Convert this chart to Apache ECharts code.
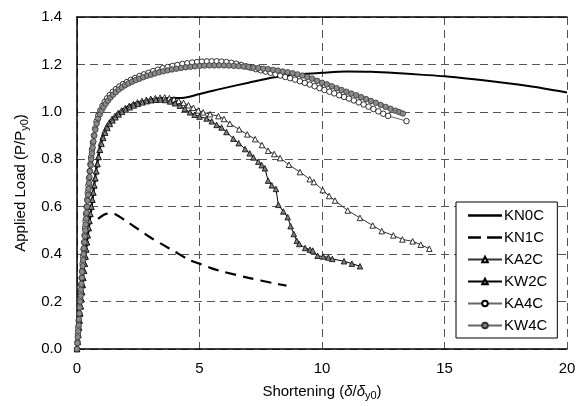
<!DOCTYPE html>
<html>
<head>
<meta charset="utf-8">
<script src="https://cdn.jsdelivr.net/npm/echarts@6/dist/echarts.min.js"></script>
<style>html,body{margin:0;padding:0;background:#fff}#c{width:580px;height:406px}</style>
</head>
<body>
<div id="c"></div>
<script>
var xTicks = [0, 5, 10, 15, 20];
var yTicks = [0.0, 0.2, 0.4, 0.6, 0.8, 1.0, 1.2, 1.4];
var seriesNames = ['KN0C', 'KN1C', 'KA2C', 'KW2C', 'KA4C', 'KW4C'];

var KN0C = [[0,0],[0.15,0.2],[0.35,0.4],[0.6,0.6],[0.8,0.77],[1.07,0.91],[1.5,0.98],[2.3,1.035],[3.0,1.05],[3.6,1.058],[4.2,1.058],[5,1.075],[6,1.1],[7,1.123],[8,1.145],[9,1.158],[10,1.165],[11,1.17],[12,1.169],[13,1.164],[14,1.157],[15,1.15],[16,1.14],[17,1.128],[18,1.115],[19,1.1],[20,1.082]];

var KN1C = [[0.86,0.549],[1.1,0.566],[1.35,0.573],[1.6,0.566],[2,0.54],[2.5,0.505],[3,0.47],[3.5,0.44],[4,0.41],[4.6,0.375],[5,0.36],[5.5,0.34],[6,0.325],[7,0.3],[8,0.278],[8.55,0.267]];

var KA2C = [[0,0],[0.03,0.03],[0.05,0.06],[0.08,0.09],[0.1,0.12],[0.13,0.15],[0.15,0.18],[0.18,0.21],[0.2,0.24],[0.23,0.27],[0.25,0.3],[0.28,0.33],[0.31,0.36],[0.34,0.39],[0.37,0.42],[0.4,0.45],[0.43,0.48],[0.47,0.51],[0.5,0.54],[0.54,0.57],[0.58,0.6],[0.62,0.63],[0.66,0.66],[0.7,0.69],[0.74,0.72],[0.78,0.75],[0.82,0.78],[0.87,0.81],[0.92,0.84],[0.98,0.87],[1.05,0.895],[1.13,0.918],[1.22,0.938],[1.32,0.955],[1.43,0.97],[1.55,0.983],[1.68,0.995],[1.82,1.006],[1.97,1.016],[2.13,1.025],[2.3,1.033],[2.47,1.04],[2.65,1.046],[2.83,1.051],[3.01,1.055],[3.2,1.058],[3.39,1.06],[3.58,1.061],[3.77,1.058],[3.96,1.053],[4.15,1.046],[4.35,1.038],[4.55,1.028],[4.75,1.017],[4.95,1.006],[5.15,0.998],[5.43,0.99],[5.77,0.982],[6.0,0.97],[6.24,0.95],[6.62,0.926],[6.95,0.905],[7.27,0.885],[7.55,0.86],[7.8,0.836],[8.05,0.822],[8.29,0.805],[8.65,0.777],[9.1,0.746],[9.5,0.716],[9.67,0.704],[10.03,0.67],[10.29,0.645],[10.53,0.626],[11.05,0.584],[11.55,0.553],[12.07,0.521],[12.44,0.497],[12.91,0.479],[13.28,0.462],[13.7,0.454],[14.03,0.44],[14.38,0.423]];

var KW2C = [[0,0],[0.03,0.03],[0.06,0.06],[0.08,0.09],[0.11,0.12],[0.13,0.15],[0.16,0.18],[0.18,0.21],[0.21,0.24],[0.23,0.27],[0.26,0.3],[0.29,0.33],[0.32,0.36],[0.35,0.39],[0.38,0.42],[0.41,0.45],[0.44,0.48],[0.48,0.51],[0.51,0.54],[0.55,0.57],[0.59,0.6],[0.63,0.63],[0.67,0.66],[0.71,0.69],[0.75,0.72],[0.79,0.75],[0.84,0.78],[0.89,0.81],[0.94,0.84],[1.0,0.865],[1.07,0.89],[1.15,0.912],[1.24,0.932],[1.34,0.949],[1.45,0.964],[1.57,0.977],[1.7,0.989],[1.84,1.0],[1.99,1.01],[2.15,1.019],[2.32,1.027],[2.49,1.034],[2.67,1.04],[2.85,1.045],[3.03,1.049],[3.22,1.051],[3.41,1.052],[3.6,1.05],[3.8,1.044],[4.0,1.036],[4.2,1.026],[4.4,1.013],[4.61,0.998],[4.8,0.988],[5.0,0.98],[5.29,0.972],[5.5,0.96],[5.7,0.945],[5.9,0.934],[6.1,0.915],[6.38,0.887],[6.6,0.868],[6.86,0.843],[7.05,0.825],[7.2,0.808],[7.4,0.79],[7.54,0.775],[7.67,0.762],[7.8,0.71],[7.95,0.69],[8.12,0.675],[8.22,0.608],[8.42,0.58],[8.6,0.556],[8.72,0.518],[8.85,0.485],[8.97,0.456],[9.07,0.443],[9.31,0.426],[9.51,0.419],[9.62,0.415],[9.82,0.393],[10.05,0.39],[10.26,0.386],[10.42,0.38],[10.9,0.37],[11.22,0.36],[11.55,0.349]];

var KA4C = [[0,0],[0.02,0.03],[0.04,0.06],[0.05,0.09],[0.07,0.12],[0.09,0.15],[0.11,0.18],[0.13,0.21],[0.15,0.24],[0.17,0.27],[0.19,0.3],[0.21,0.33],[0.23,0.36],[0.25,0.39],[0.27,0.42],[0.29,0.45],[0.31,0.48],[0.33,0.51],[0.35,0.54],[0.37,0.57],[0.39,0.6],[0.42,0.63],[0.44,0.66],[0.47,0.69],[0.49,0.72],[0.52,0.75],[0.55,0.78],[0.58,0.81],[0.61,0.84],[0.65,0.87],[0.69,0.9],[0.74,0.93],[0.8,0.96],[0.87,0.985],[0.95,1.006],[1.04,1.025],[1.13,1.042],[1.23,1.057],[1.34,1.071],[1.46,1.084],[1.59,1.096],[1.73,1.107],[1.88,1.117],[2.04,1.126],[2.2,1.135],[2.37,1.143],[2.55,1.151],[2.73,1.158],[2.92,1.165],[3.11,1.172],[3.3,1.178],[3.5,1.184],[3.7,1.189],[3.9,1.194],[4.1,1.198],[4.3,1.202],[4.5,1.205],[4.7,1.208],[4.9,1.21],[5.1,1.212],[5.3,1.213],[5.5,1.213],[5.7,1.213],[5.9,1.212],[6.1,1.21],[6.3,1.207],[6.5,1.203],[6.7,1.198],[6.9,1.192],[7.1,1.186],[7.3,1.18],[7.5,1.175],[7.7,1.17],[7.9,1.165],[8.1,1.159],[8.3,1.153],[8.5,1.147],[8.7,1.142],[8.9,1.136],[9.1,1.129],[9.3,1.122],[9.5,1.115],[9.7,1.108],[9.9,1.1],[10.1,1.092],[10.3,1.085],[10.5,1.078],[10.7,1.07],[10.9,1.063],[11.1,1.056],[11.3,1.048],[11.5,1.04],[11.7,1.031],[11.9,1.022],[12.1,1.012],[12.3,1.002],[12.5,0.992],[12.7,0.983],[13.45,0.961]];

var KW4C = [[0,0],[0.02,0.025],[0.03,0.05],[0.05,0.075],[0.07,0.1],[0.08,0.125],[0.1,0.15],[0.11,0.175],[0.13,0.2],[0.15,0.225],[0.16,0.25],[0.18,0.275],[0.2,0.3],[0.21,0.325],[0.23,0.35],[0.25,0.375],[0.27,0.4],[0.28,0.425],[0.3,0.45],[0.32,0.475],[0.34,0.5],[0.35,0.525],[0.37,0.55],[0.39,0.575],[0.41,0.6],[0.43,0.625],[0.45,0.65],[0.47,0.675],[0.49,0.7],[0.51,0.725],[0.53,0.75],[0.56,0.775],[0.58,0.8],[0.61,0.825],[0.64,0.85],[0.67,0.875],[0.71,0.9],[0.75,0.925],[0.8,0.95],[0.86,0.972],[0.93,0.99],[1.0,1.005],[1.08,1.02],[1.17,1.034],[1.26,1.047],[1.36,1.06],[1.47,1.072],[1.58,1.083],[1.7,1.094],[1.83,1.103],[1.96,1.112],[2.1,1.12],[2.25,1.127],[2.4,1.134],[2.55,1.14],[2.7,1.146],[2.86,1.152],[3.02,1.157],[3.18,1.162],[3.35,1.167],[3.52,1.171],[3.7,1.175],[3.88,1.179],[4.06,1.182],[4.25,1.185],[4.44,1.188],[4.63,1.19],[4.82,1.192],[5.01,1.194],[5.2,1.195],[5.4,1.196],[5.6,1.196],[5.8,1.196],[6.0,1.196],[6.2,1.195],[6.4,1.194],[6.6,1.193],[6.8,1.191],[7.0,1.189],[7.2,1.187],[7.4,1.185],[7.6,1.182],[7.8,1.18],[8.0,1.177],[8.2,1.174],[8.4,1.17],[8.6,1.167],[8.8,1.163],[9.0,1.158],[9.2,1.153],[9.4,1.147],[9.6,1.14],[9.8,1.131],[10.0,1.123],[10.2,1.116],[10.4,1.108],[10.6,1.1],[10.8,1.092],[11.0,1.085],[11.2,1.077],[11.4,1.07],[11.6,1.062],[11.8,1.054],[12.0,1.046],[12.2,1.038],[12.4,1.029],[12.6,1.021],[12.8,1.013],[13.0,1.005],[13.15,0.999],[13.3,0.993]];

var FONT = 'Liberation Sans, Arial, sans-serif';
var chart = echarts.init(document.getElementById('c'), null, {renderer: 'canvas'});

function markerSeries(name, data, symbol, fill, edge, lineColor, size) {
  return {
    name: name, type: 'line', data: data, symbol: symbol, symbolSize: size,
    showAllSymbol: true, animation: false,
    lineStyle: {color: lineColor, width: 1},
    itemStyle: {color: fill, borderColor: edge, borderWidth: 0.8}
  };
}

var legendData = seriesNames.map(function (n) {
  if (n === 'KN0C') return {name: n, icon: 'path://M0,0H34V2.6H0Z'};
  if (n === 'KN1C') return {name: n, icon: 'path://M0,0H13V2.6H0Z M19,0H34V2.6H19Z'};
  return {name: n};
});

chart.setOption({
  animation: false,
  backgroundColor: '#fff',
  grid: {left: 77, right: 13, top: 17, bottom: 55, containLabel: false},
  xAxis: [{
    type: 'value', min: xTicks[0], max: xTicks[xTicks.length - 1], interval: 5,
    axisLine: {show: true, onZero: false, lineStyle: {color: '#000', width: 1.5}},
    axisTick: {show: false},
    axisLabel: {color: '#000', fontSize: 15, fontFamily: FONT, margin: 12},
    splitLine: {show: true, lineStyle: {color: '#555', width: 1, type: [8, 5]}},
    name: 'Shortening ({it|δ}/{it|δ}{sub|y0})',
    nameLocation: 'middle', nameGap: 34,
    nameTextStyle: {color: '#000', fontSize: 15, fontFamily: FONT,
      rich: {it: {fontStyle: 'italic', fontSize: 15, fontFamily: FONT, color: '#000'},
             sub: {fontSize: 11, fontFamily: FONT, color: '#000', padding: [7, 0, 0, 0]}}}
  }, {
    type: 'value', position: 'top', min: 0, max: 20, interval: 5,
    axisLine: {show: true, onZero: false, lineStyle: {color: '#000', width: 1.5}},
    axisTick: {show: false}, axisLabel: {show: false}, splitLine: {show: false}
  }],
  yAxis: {
    type: 'value', min: yTicks[0], max: yTicks[yTicks.length - 1], interval: 0.2,
    axisLine: {show: true, onZero: false, lineStyle: {color: '#000', width: 1.5}},
    axisTick: {show: false},
    axisLabel: {color: '#000', fontSize: 15, fontFamily: FONT, margin: 15,
      formatter: function (v) { return v.toFixed(1); }},
    splitLine: {show: true, lineStyle: {color: '#555', width: 1, type: [8, 5]}},
    name: 'Applied Load (P/P{sub|y0})',
    nameLocation: 'middle', nameGap: 44, nameRotate: 90,
    nameTextStyle: {color: '#000', fontSize: 15, fontFamily: FONT,
      rich: {sub: {fontSize: 11, fontFamily: FONT, color: '#000', padding: [7, 0, 0, 0]}}}
  },
  legend: {
    orient: 'vertical', left: 456, top: 202,
    data: legendData, symbolKeepAspect: true,
    backgroundColor: '#fff', borderColor: '#000', borderWidth: 1,
    padding: [5, 10, 4, 11], itemGap: 5, itemWidth: 34, itemHeight: 7,
    textStyle: {color: '#000', fontSize: 15, fontFamily: FONT, lineHeight: 17, padding: [0, 0, 0, -3]}
  },
  series: [
    {name: 'KN0C', type: 'line', data: KN0C, showSymbol: false, symbol: 'none', smooth: 0.3,
     lineStyle: {color: '#000', width: 2}, itemStyle: {color: '#000'}, z: 1},
    {name: 'KN1C', type: 'line', data: KN1C, showSymbol: false, symbol: 'none', smooth: 0.3,
     lineStyle: {color: '#000', width: 2.2, type: [11, 7]}, itemStyle: {color: '#000'}, z: 1},
    markerSeries('KA2C', KA2C, 'triangle', '#fff', '#000', '#333', 5.5),
    markerSeries('KW2C', KW2C, 'triangle', '#808080', '#000', '#000', 5.5),
    markerSeries('KA4C', KA4C, 'circle', '#fff', '#000', '#666', 5.5),
    markerSeries('KW4C', KW4C, 'circle', '#8a8a8a', '#333', '#666', 5.5)
  ]
});
</script>
</body>
</html>
